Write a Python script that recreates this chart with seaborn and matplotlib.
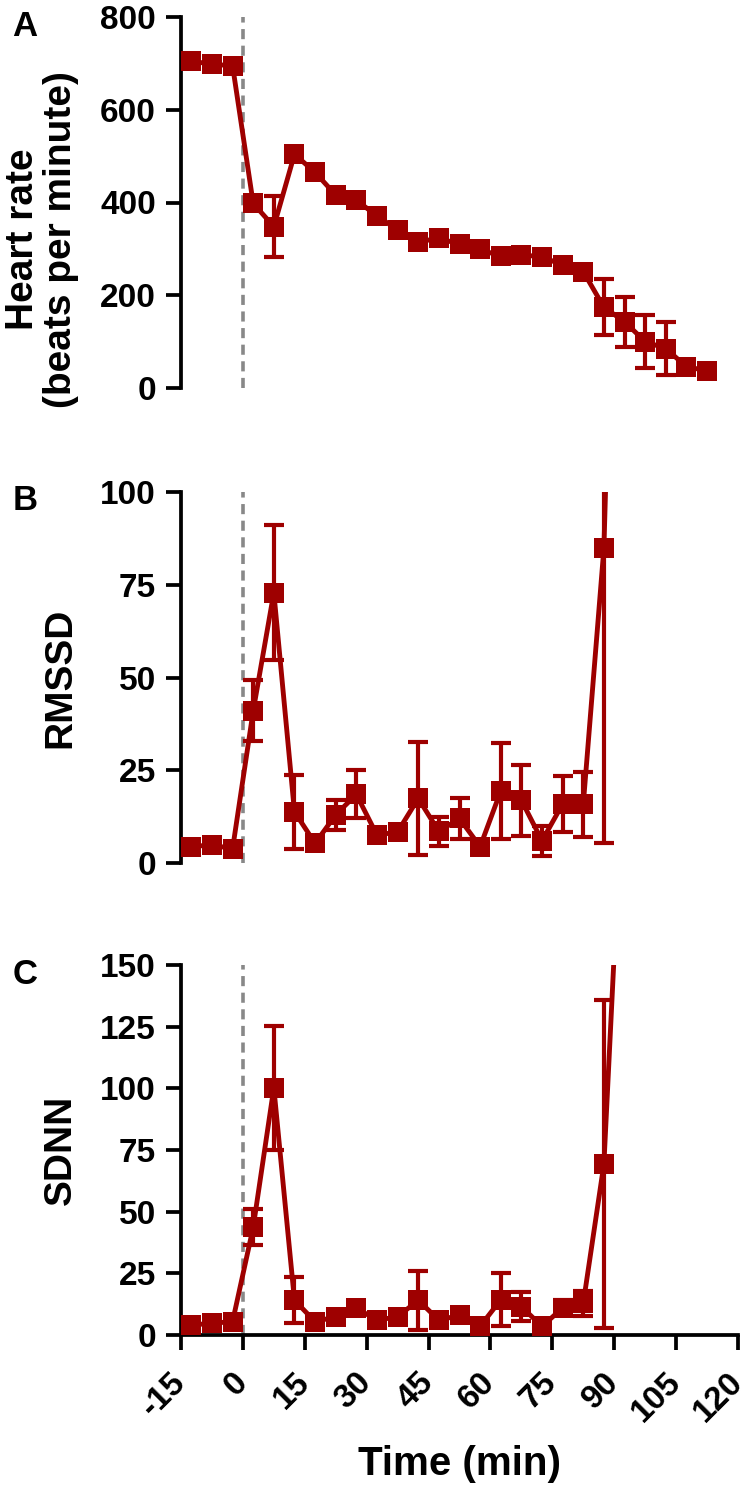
import matplotlib
matplotlib.use("Agg")
import matplotlib.pyplot as plt
import seaborn as sns

sns.set_theme(style="ticks")
plt.rcParams["font.family"] = ["Liberation Sans", "DejaVu Sans"]
plt.rcParams["font.weight"] = "bold"
plt.rcParams["axes.labelweight"] = "bold"
plt.rcParams["axes.unicode_minus"] = False
for key in ["text.color", "axes.labelcolor", "xtick.color", "ytick.color", "axes.edgecolor"]:
    plt.rcParams[key] = "black"

RED = "#9E0000"

# time points (min), 5 min bins
times = [-12.5, -7.5, -2.5, 2.5, 7.5, 12.5, 17.5, 22.5, 27.5, 32.5, 37.5, 42.5, 47.5,
         52.5, 57.5, 62.5, 67.5, 72.5, 77.5, 82.5, 87.5, 92.5, 97.5, 102.5, 107.5, 112.5]

hr_mean = [705, 698, 695, 398, 348, 504, 465, 416, 405, 371, 341, 315, 323,
           310, 299, 284, 287, 283, 265, 251, 174, 143, 100, 85, 46, 37]
hr_sem = [8, 8, 15, 12, 65, 10, 8, 8, 8, 8, 8, 8, 8,
          8, 8, 6, 6, 6, 8, 10, 60, 54, 57, 57, 8, 6]

hrv_times = times[:22]
rmssd_mean = [4.4, 4.9, 3.8, 41, 72.9, 13.8, 5.3, 13, 18.5, 7.5, 8.4, 17.4, 8.5,
              12, 4.4, 19.4, 16.9, 6, 15.9, 15.8, 84.9, 280]
rmssd_sem = [0.5, 0.5, 0.5, 8.2, 18.2, 10, 1, 4, 6.5, 1, 1, 15.2, 4,
             5.5, 0.5, 12.9, 9.5, 4, 7.5, 8.7, 79.6, 0]

sdnn_mean = [4, 4.8, 5.4, 43.7, 100.2, 14.1, 5.4, 7.4, 10.9, 6, 7.4, 14.1, 6,
             8, 3.5, 14.3, 11.5, 3.5, 11, 12.9, 69.3, 240]
sdnn_sem = [0.5, 0.5, 0.5, 7.4, 25.2, 9.4, 1, 1, 1.5, 1, 1, 12, 1,
            1.5, 0.5, 10.7, 6, 0.5, 3, 5, 66.5, 0]

panels = [
    ("A", "Heart rate\n(beats per minute)", times, hr_mean, hr_sem, 800, [0, 200, 400, 600, 800], 0.40),
    ("B", "RMSSD", hrv_times, rmssd_mean, rmssd_sem, 100, [0, 25, 50, 75, 100], 0.5),
    ("C", "SDNN", hrv_times, sdnn_mean, sdnn_sem, 150, [0, 25, 50, 75, 100, 125, 150], 0.5),
]
xticks = [-15, 0, 15, 30, 45, 60, 75, 90, 105, 120]

fig = plt.figure(figsize=(7.5, 14.95), dpi=100)
H = 1495.0
tops = [17, 492, 965]
bottoms = [388, 863, 1335]

for i, (letter, ylab, t, m, s, ymax, yt, ly) in enumerate(panels):
    ax = fig.add_axes([181 / 750, 1 - bottoms[i] / H, 557 / 750, (bottoms[i] - tops[i]) / H])
    ax.axvline(0, color="#888888", lw=2.6, ls=(0, (2.8, 1.8)), zorder=1)
    ax.errorbar(t, m, yerr=s, fmt="none", ecolor=RED, elinewidth=3, capsize=7, capthick=3, zorder=2)
    sns.lineplot(x=t, y=m, ax=ax, color=RED, lw=3.5, marker="s", markersize=14,
                 markeredgewidth=0, zorder=3)
    ax.set_xlim(-15, 120)
    ax.set_ylim(0, ymax)
    ax.set_yticks(yt)
    ax.tick_params(axis="y", length=11, width=2.7, pad=7, labelsize=24)
    ax.spines["left"].set_linewidth(2.7)
    ax.spines["bottom"].set_linewidth(2.7)
    ax.set_ylabel(ylab, fontsize=28, fontweight="bold", linespacing=1.05)
    ax.yaxis.set_label_coords(-0.184, ly)
    if i < 2:
        sns.despine(ax=ax, bottom=True)
        ax.tick_params(axis="x", bottom=False, labelbottom=False)
    else:
        sns.despine(ax=ax)
        ax.set_xticks(xticks)
        ax.tick_params(axis="x", length=11, width=2.7, pad=20, labelsize=24)
        for lab in ax.get_xticklabels():
            lab.set_rotation(45)
            lab.set_ha("right")
            lab.set_va("center")
            lab.set_rotation_mode("anchor")
        ax.set_xlabel("Time (min)", fontsize=29, fontweight="bold")
        ax.xaxis.set_label_coords(0.5, -0.298)
    for lab in ax.get_yticklabels() + ax.get_xticklabels():
        lab.set_fontweight("bold")
    fig.text(25 / 750, 1 - (tops[i] + 9) / H, letter, fontsize=25, fontweight="bold",
             ha="center", va="center")

fig.savefig("out.png", dpi=100)
